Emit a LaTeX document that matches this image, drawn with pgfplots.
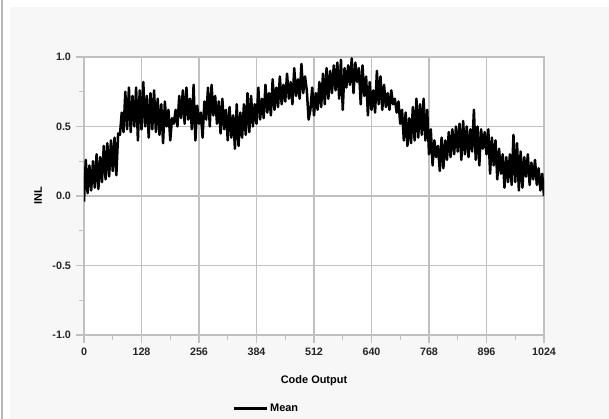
\documentclass[border=0pt]{standalone}
\usepackage{fontspec}
\setmainfont{Liberation Sans}
\usepackage{pgfplots}
\pgfplotsset{compat=1.18}
\definecolor{panelgray}{HTML}{F7F7F7}
\definecolor{gridgray}{HTML}{C0C0C0}
\definecolor{edgegray}{HTML}{B8B8B8}
\begin{document}
\begin{tikzpicture}
\path[use as bounding box] (-84bp,-84bp) rectangle (525bp,335bp);
\fill[white] (-84bp,-84bp) rectangle (525bp,335bp);
\fill[panelgray] (-74bp,-84bp) rectangle (525bp,328bp);
\draw[edgegray,line width=1.5bp] (-82bp,-84bp) -- (-82bp,335bp);
\begin{axis}[
  at={(0,0)}, anchor=south west,
  scale only axis, width=460bp, height=278bp,
  xmin=0, xmax=1024, ymin=-1, ymax=1,
  axis background/.style={fill=white},
  axis line style={gridgray, line width=1.3bp},
  xtick={0,128,256,384,512,640,768,896,1024},
  xticklabels={0,128,256,384,512,640,768,896,1024},
  ytick={-1,-0.5,0,0.5,1},
  yticklabels={-1.0,-0.5,0.0,0.5,1.0},
  minor xtick={64,192,320,448,576,704,832,960},
  minor ytick={-0.75,-0.25,0.25,0.75},
  tick pos=left,
  tick align=outside,
  major tick length=8bp, minor tick length=5bp,
  tick style={gridgray, line width=1.3bp},
  xmajorgrids, ymajorgrids,
  major grid style={gridgray, line width=1.3bp},
  tick label style={font=\fontsize{10.8}{12}\selectfont\bfseries, text=black!85},
  xticklabel style={yshift=-1.5bp},
  yticklabel style={xshift=-1.5bp},
  label style={font=\fontsize{11}{13}\selectfont\bfseries},
  xlabel={Code Output},
  ylabel={INL},
  xlabel style={at={(axis description cs:0.5,-0.165)}, anchor=center},
  ylabel style={at={(axis description cs:-0.1,0.5)}, anchor=center},
  legend style={draw=none, fill=none, at={(axis description cs:0.396,-0.263)}, anchor=center,
    font=\fontsize{11}{13}\selectfont\bfseries, inner sep=0pt},
  legend image code/.code={\draw[black, line width=3bp] (0bp,0bp) -- (33bp,0bp);},
  clip=true,
]
\addplot[black, line width=2.5bp, line join=round] table {
x y
0 -0.04
4 0.26
8 0.02
12 0.22
16 0.04
20 0.25
24 0.06
28 0.30
32 0.05
36 0.28
40 0.10
44 0.36
48 0.12
52 0.38
56 0.14
60 0.40
64 0.18
68 0.42
72 0.15
76 0.45
80 0.44
84 0.60
88 0.46
92 0.75
96 0.48
100 0.78
104 0.46
108 0.72
112 0.50
116 0.78
120 0.40
124 0.76
128 0.48
132 0.82
136 0.50
140 0.72
144 0.42
148 0.74
152 0.48
156 0.76
160 0.46
164 0.70
168 0.44
172 0.66
176 0.38
180 0.68
184 0.50
188 0.62
192 0.40
196 0.56
200 0.52
204 0.62
208 0.50
212 0.72
216 0.56
220 0.76
224 0.52
228 0.78
232 0.55
236 0.70
240 0.48
244 0.80
248 0.40
252 0.65
256 0.52
260 0.60
264 0.42
268 0.68
272 0.55
276 0.78
280 0.50
284 0.80
288 0.58
292 0.72
296 0.52
300 0.68
304 0.45
308 0.70
312 0.48
316 0.62
320 0.40
324 0.64
328 0.42
332 0.58
336 0.34
340 0.66
344 0.36
348 0.60
352 0.42
356 0.66
360 0.44
364 0.74
368 0.46
372 0.72
376 0.50
380 0.66
384 0.52
388 0.78
392 0.55
396 0.70
400 0.56
404 0.80
408 0.60
412 0.74
416 0.58
420 0.84
424 0.62
428 0.78
432 0.64
436 0.86
440 0.66
444 0.80
448 0.68
452 0.88
456 0.70
460 0.82
464 0.66
468 0.92
472 0.72
476 0.84
480 0.70
484 0.95
488 0.74
492 0.86
496 0.76
500 0.55
504 0.62
508 0.78
512 0.58
516 0.74
520 0.62
524 0.82
528 0.64
532 0.88
536 0.66
540 0.92
544 0.70
548 0.90
552 0.74
556 0.94
560 0.76
564 0.96
568 0.70
572 0.98
576 0.62
580 0.92
584 0.78
588 0.94
592 0.80
596 0.99
600 0.74
604 0.96
608 0.82
612 0.92
616 0.66
620 0.94
624 0.72
628 0.86
632 0.58
636 0.82
640 0.62
644 0.76
648 0.60
652 0.90
656 0.66
660 0.86
664 0.62
668 0.80
672 0.64
676 0.74
680 0.62
684 0.76
688 0.66
692 0.70
696 0.60
700 0.68
704 0.52
708 0.62
712 0.40
716 0.60
720 0.36
724 0.56
728 0.38
732 0.64
736 0.40
740 0.70
744 0.42
748 0.66
752 0.44
756 0.70
760 0.40
764 0.62
768 0.30
772 0.48
776 0.22
780 0.40
784 0.28
788 0.36
792 0.18
796 0.42
800 0.20
804 0.40
808 0.26
812 0.46
816 0.28
820 0.48
824 0.30
828 0.50
832 0.32
836 0.52
840 0.26
844 0.54
848 0.30
852 0.50
856 0.28
860 0.48
864 0.32
868 0.62
872 0.26
876 0.50
880 0.22
884 0.48
888 0.34
892 0.46
896 0.30
900 0.48
904 0.16
908 0.42
912 0.22
916 0.40
920 0.12
924 0.34
928 0.16
932 0.30
936 0.06
940 0.28
944 0.10
948 0.30
952 0.08
956 0.44
960 0.10
964 0.38
968 0.04
972 0.32
976 0.06
980 0.28
984 0.14
988 0.30
992 0.08
996 0.24
1000 0.12
1004 0.26
1008 0.08
1012 0.20
1016 0.04
1020 0.16
1024 0.00
};
\addlegendentry{Mean}
\end{axis}
\end{tikzpicture}
\end{document}
